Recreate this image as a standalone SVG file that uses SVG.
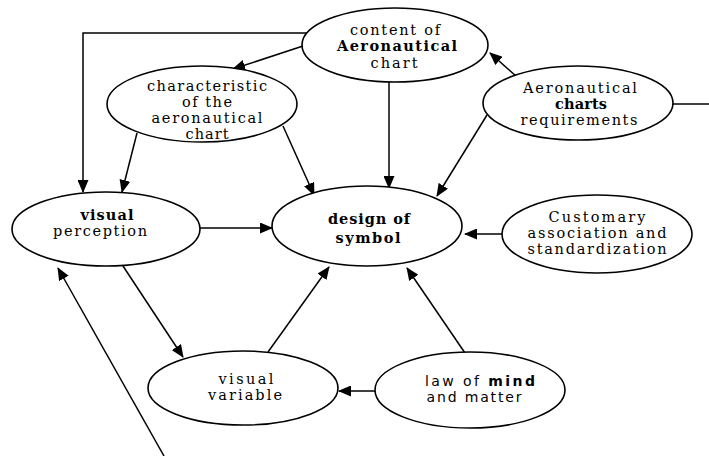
<svg xmlns="http://www.w3.org/2000/svg" width="709" height="456" viewBox="0 0 709 456">
<defs>
<style>
.node ellipse{fill:#fff;stroke:#000;stroke-width:1.6}
.node text{font-family:"DejaVu Serif","Liberation Serif",serif;font-size:14.5px;fill:#000;text-anchor:middle}
.node text.s{font-family:"DejaVu Sans","Liberation Sans",sans-serif;font-size:14px}
.b{font-weight:bold}
.edges path{fill:none;stroke:#000;stroke-width:1.5}
.edges path.a{marker-end:url(#arr)}
</style>
<marker id="arr" markerUnits="userSpaceOnUse" markerWidth="13" markerHeight="11" refX="12" refY="5.5" orient="auto">
<path d="M0,0 L13,5.5 L0,11 z" fill="#000"/>
</marker>
</defs>
<rect width="709" height="456" fill="#fff"/>
<g class="edges" id="connectors">
<path class="a" d="M307,33 H83 V192"/>
<path class="a" d="M303,46 L233,69"/>
<path class="a" d="M137,133 L122,192"/>
<path class="a" d="M283,126 L314,195"/>
<path class="a" d="M389,82 L389,188"/>
<path class="a" d="M516,76 L490,53"/>
<path class="a" d="M487,115 L437,196"/>
<path class="a" d="M200,228 L272,228"/>
<path class="a" d="M503,234 L465,234"/>
<path class="a" d="M123,266 L183,357"/>
<path class="a" d="M268,352 L329,267"/>
<path class="a" d="M375,391 L339,391"/>
<path class="a" d="M465,353 L407,268"/>
<path class="a" d="M164,456 L58,268"/>
<path d="M673,104 H709"/>
</g>
<g class="node" id="content">
<ellipse cx="395" cy="45" rx="93" ry="37"/>
<text x="395" y="35" textLength="90">content of</text>
<text x="397" y="51" textLength="120" class="b">Aeronautical</text>
<text x="394" y="68" textLength="47">chart</text>
</g>
<g class="node" id="characteristic">
<ellipse cx="202" cy="104" rx="95" ry="38"/>
<text x="207" y="91" textLength="120">characteristic</text>
<text x="207" y="107" textLength="50">of the</text>
<text x="207" y="123" textLength="111">aeronautical</text>
<text x="207" y="139" textLength="43">chart</text>
</g>
<g class="node" id="requirements">
<ellipse cx="578" cy="103" rx="95" ry="37"/>
<text x="580" y="93" textLength="114">Aeronautical</text>
<text x="581" y="109" textLength="52" class="b">charts</text>
<text x="579" y="125" textLength="117">requirements</text>
</g>
<g class="node" id="perception">
<ellipse cx="106" cy="229" rx="94" ry="37"/>
<text x="107" y="220" textLength="53" class="b">visual</text>
<text x="100" y="236" textLength="94">perception</text>
</g>
<g class="node" id="design">
<ellipse cx="367" cy="226" rx="95" ry="40"/>
<text x="369" y="224" textLength="82" class="b">design of</text>
<text x="368" y="243" textLength="65" class="b">symbol</text>
</g>
<g class="node" id="customary">
<ellipse cx="597" cy="234" rx="95" ry="39"/>
<text x="597" y="222" textLength="97">Customary</text>
<text x="597" y="238" textLength="139">association and</text>
<text x="597" y="254" textLength="139">standardization</text>
</g>
<g class="node" id="variable">
<ellipse cx="243" cy="388" rx="95" ry="37"/>
<text x="246" y="384" textLength="55">visual</text>
<text x="245" y="400" textLength="74">variable</text>
</g>
<g class="node" id="law">
<ellipse cx="470" cy="390" rx="95" ry="38"/>
<text class="s" x="480" y="386" textLength="110">law of <tspan class="b">mind</tspan></text>
<text class="s" x="474" y="402" textLength="95">and matter</text>
</g>
</svg>
